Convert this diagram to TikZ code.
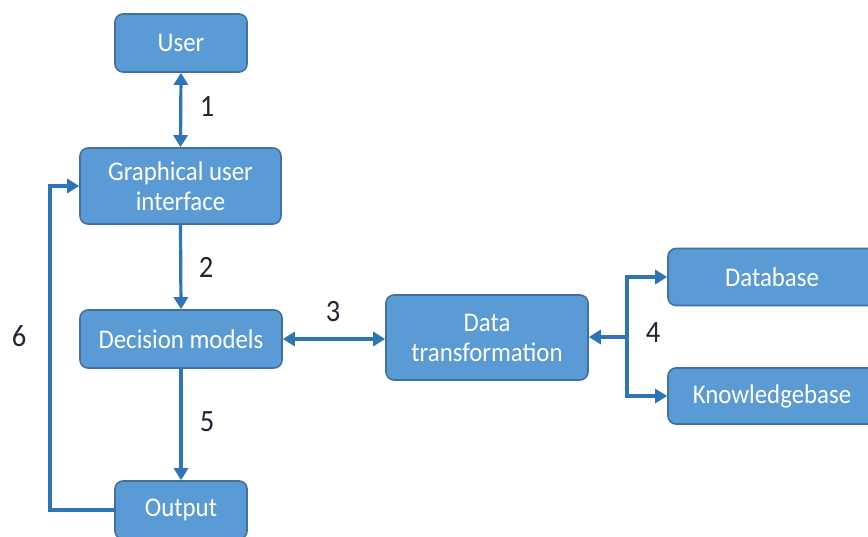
\documentclass[tikz,border=0pt]{standalone}
\usepackage{fontspec}
\setmainfont{Carlito}[FakeStretch=0.92]
\usetikzlibrary{arrows.meta}
\definecolor{boxfill}{RGB}{91,155,213}
\definecolor{boxline}{RGB}{65,113,156}
\definecolor{flow}{RGB}{46,117,182}
\definecolor{lbl}{RGB}{30,38,52}
\begin{document}
\begin{tikzpicture}[x=1pt,y=-1pt,
  blk/.style={draw=boxline, line width=1.6pt, fill=boxfill, rounded corners=8pt,
    text=white, font=\fontsize{27}{30}\selectfont, align=center, inner sep=0pt},
  flowline/.style={draw=flow, line width=3.2pt,
    >={Triangle[length=12pt,width=14pt]}},
  numlbl/.style={text=lbl, font=\fontsize{31}{32}\selectfont, inner sep=0pt}]
\useasboundingbox (0,0) rectangle (868,536);
\clip (0,0) rectangle (868,536);

% boxes
\node[blk, minimum width=132pt, minimum height=58pt] (user) at (181,43) {User};
\node[blk, minimum width=201pt, minimum height=76pt] (gui) at (180.5,186) {Graphical user\\interface};
\node[blk, minimum width=202pt, minimum height=58pt] (dm) at (181,339) {Decision models};
\node[blk, minimum width=132pt, minimum height=58pt] (out) at (181,510) {Output};
\node[blk, minimum width=202pt, minimum height=85pt] (dt) at (487,337.5) {Data\\transformation};
\node[blk, minimum width=208pt, minimum height=57pt] (db) at (772,277) {Database};
\node[blk, minimum width=208pt, minimum height=56pt] (kb) at (772,396) {Knowledgebase};

% connectors
\coordinate (fork) at (627,337);
\coordinate (loopx) at (50,0);
\draw[flowline, <->] (user.south) -- (gui.north);
\draw[flowline, ->] (gui.south) -- (dm.north);
\draw[flowline, <->] (dm.east) -- (dm.east -| dt.west);
\draw[flowline, ->] (fork) -- (fork -| dt.east);
\draw[flowline, ->] (fork) |- (db.west);
\draw[flowline, ->] (fork) |- (kb.west);
\draw[flowline, ->] (dm.south) -- (out.north);
\draw[flowline, ->] (out.west) -- (out.west -| loopx) |- (gui.west);

% step numbers
\node[numlbl] (n1) at (207,107) {1};
\node[numlbl] (n2) at (206,267) {2};
\node[numlbl] (n3) at (333,312) {3};
\node[numlbl] (n4) at (653,333) {4};
\node[numlbl] (n5) at (207,422) {5};
\node[numlbl] (n6) at (19,336) {6};
\end{tikzpicture}
\end{document}
